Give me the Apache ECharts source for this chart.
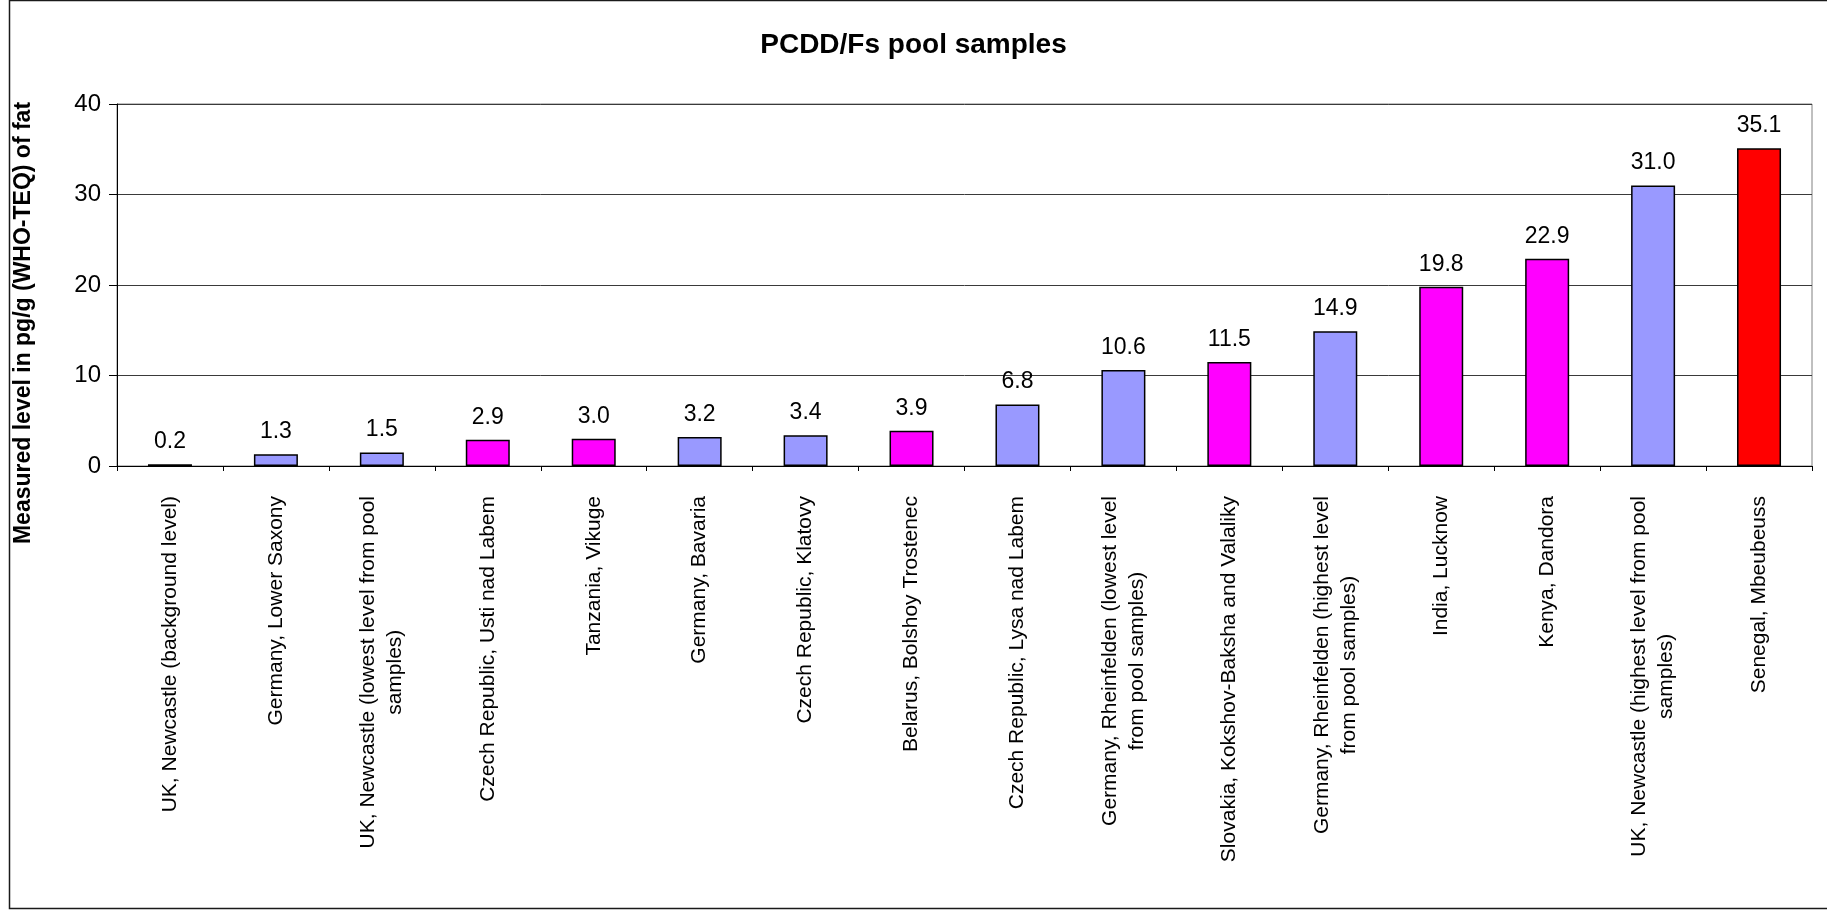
<!DOCTYPE html>
<html>
<head>
<meta charset="utf-8">
<title>PCDD/Fs pool samples</title>
<script src="https://cdn.jsdelivr.net/npm/echarts@6/dist/echarts.min.js"></script>
<style>
  html, body { margin: 0; padding: 0; background: #fff; }
  #chart { width: 1827px; height: 912px; }
</style>
</head>
<body>
<div id="chart"></div>
<script>
// Sampling sites (line breaks mark where long names wrap)
const categories = [
  'UK, Newcastle (background level)',
  'Germany, Lower Saxony',
  'UK, Newcastle (lowest level from pool\nsamples)',
  'Czech Republic, Usti nad Labem',
  'Tanzania, Vikuge',
  'Germany, Bavaria',
  'Czech Republic, Klatovy',
  'Belarus, Bolshoy Trostenec',
  'Czech Republic, Lysa nad Labem',
  'Germany, Rheinfelden (lowest level\nfrom pool samples)',
  'Slovakia, Kokshov-Baksha and Valaliky',
  'Germany, Rheinfelden (highest level\nfrom pool samples)',
  'India, Lucknow',
  'Kenya, Dandora',
  'UK, Newcastle (highest level from pool\nsamples)',
  'Senegal, Mbeubeuss'
];

// Measured level in pg/g (WHO-TEQ) of fat
const values = [0.2, 1.3, 1.5, 2.9, 3.0, 3.2, 3.4, 3.9, 6.8, 10.6, 11.5, 14.9, 19.8, 22.9, 31.0, 35.1];

// Sample group of each site: 0 = comparison data, 1 = project samples, 2 = highest level
const groups = [0, 0, 0, 1, 1, 0, 0, 1, 0, 0, 1, 0, 1, 1, 0, 2];

// Value axis ticks
const yTicks = [0, 10, 20, 30, 40];

const groupColors = ['#9999FF', '#FF00FF', '#FF0000'];
const FONT = '"Liberation Sans", Arial, sans-serif';

const chart = echarts.init(document.getElementById('chart'), null, { renderer: 'canvas' });

chart.setOption({
  backgroundColor: '#ffffff',
  animation: false,
  title: {
    text: 'PCDD/Fs pool samples',
    left: 'center',
    top: 26,
    textStyle: { fontFamily: FONT, fontWeight: 'bold', fontSize: 28, color: '#000' }
  },
  graphic: [{
    type: 'rect',
    shape: { x: 9.5, y: 0.5, width: 1840, height: 908 },
    style: { fill: 'none', stroke: '#1a1a1a', lineWidth: 1.5 },
    silent: true,
    z: 100
  }],
  grid: {
    left: 117, right: 15, top: 104, bottom: 446,
    show: true,
    borderColor: '#808080',
    borderWidth: 1,
    backgroundColor: '#ffffff'
  },
  xAxis: {
    type: 'category',
    data: categories,
    boundaryGap: true,
    axisLine: { show: true, lineStyle: { color: '#000', width: 1 } },
    axisTick: { show: true, inside: false, length: 5, alignWithLabel: false, lineStyle: { color: '#000' } },
    axisLabel: {
      interval: 0,
      rotate: 90,
      margin: 30,
      fontFamily: FONT,
      fontSize: 21,
      color: '#000',
      lineHeight: 27,
      formatter: function (v) {
        return v.split('\n').map(function (s) { return '{c|' + s + '}'; }).join('\n');
      },
      rich: {
        c: { align: 'center', fontFamily: FONT, fontSize: 21, color: '#000', lineHeight: 27 }
      }
    },
    splitLine: { show: false }
  },
  yAxis: {
    type: 'value',
    min: yTicks[0],
    max: yTicks[yTicks.length - 1],
    interval: yTicks[1] - yTicks[0],
    name: 'Measured level in pg/g (WHO-TEQ) of fat',
    nameLocation: 'middle',
    nameGap: 82,
    nameTextStyle: {
      fontFamily: FONT, fontWeight: 'bold', fontSize: 23, color: '#000',
      padding: [0, 76, 0, 0]
    },
    axisLine: { show: true, lineStyle: { color: '#000', width: 1 } },
    axisTick: { show: true, inside: false, length: 8, lineStyle: { color: '#000' } },
    axisLabel: { margin: 16, fontFamily: FONT, fontSize: 24, color: '#000' },
    splitLine: { show: true, lineStyle: { color: '#3a3a3a', width: 1 } }
  },
  series: [{
    type: 'bar',
    barWidth: 44,
    data: values.map(function (v, i) {
      return { value: v, itemStyle: { color: groupColors[groups[i]] } };
    }),
    itemStyle: { borderColor: '#000', borderWidth: 1.5 },
    label: {
      show: true,
      position: 'top',
      distance: 11,
      fontFamily: FONT,
      fontSize: 23,
      color: '#000',
      formatter: function (p) { return p.value.toFixed(1); }
    }
  }]
});
</script>
</body>
</html>
